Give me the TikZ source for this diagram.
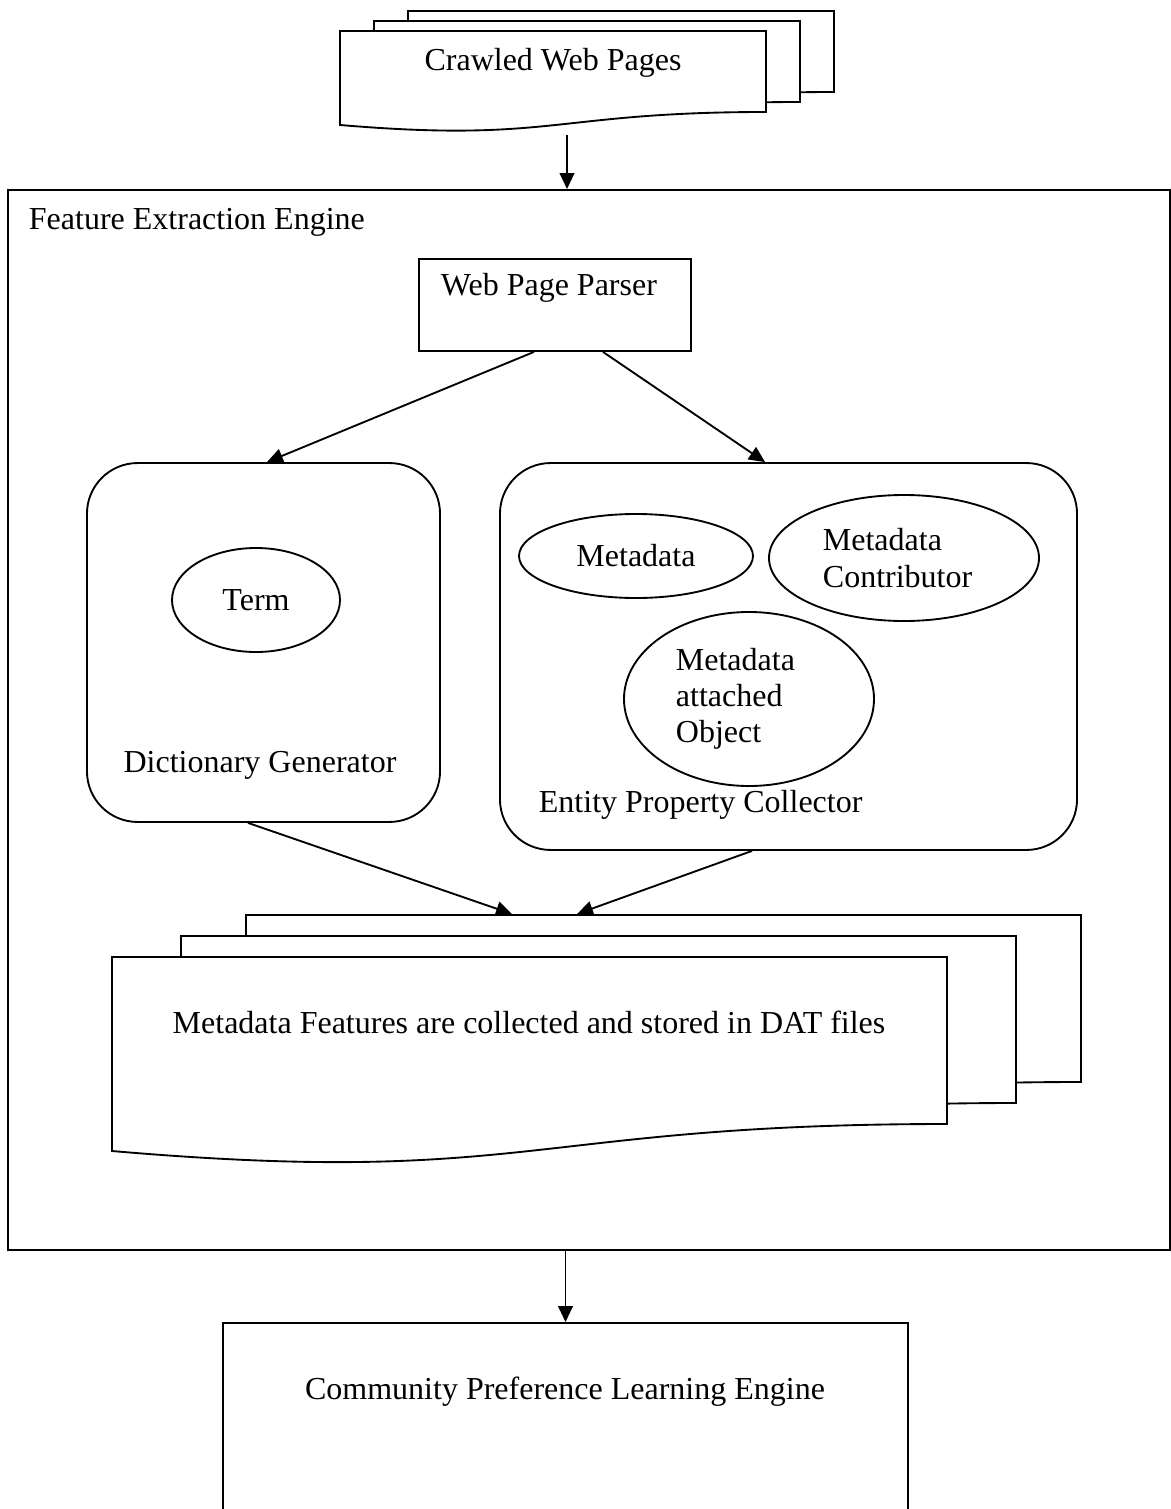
\documentclass[tikz,border=0pt]{standalone}
\usepackage{fontspec}
\setmainfont{Liberation Serif}
\usetikzlibrary{shapes.geometric,arrows.meta}

\begin{document}
\begin{tikzpicture}[x=0.375pt, y=-0.375pt, line width=0.7pt,
    >={Triangle[length=6pt,width=5.5pt]},
    every node/.style={font=\fontsize{12}{13.6}\selectfont},
    page/.style={draw, fill=white},
    box/.style={draw, rectangle, inner sep=0pt},
    rbox/.style={draw, rectangle, rounded corners=19pt, inner sep=0pt},
    oval/.style={draw, ellipse, inner sep=0pt, align=left}]
    \clip (0,0) rectangle (1171,1509);

    % 网页文档
    \foreach \l/\t in {408/11, 374/21, 340/31}
        \draw[page] (\l,\t) -- ({\l+426},\t) -- ({\l+426},{\t+81})
            .. controls ({\l+213},{\t+81}) and ({\l+213},{\t+112}) .. (\l,{\t+94}) -- cycle;
    \node (crawled) at (553,63) {Crawled Web Pages};

    % 特征提取引擎
    \node[box, minimum width=435.75pt, minimum height=397.5pt] (fee) at (589,720) {};
    \node[anchor=west, inner sep=0pt] (feelabel) at (28,222) {Feature Extraction Engine};

    % 解析器
    \node[box, minimum width=102pt, minimum height=34.5pt] (parser) at (555,305) {};
    \node[anchor=west, inner sep=0pt] (parserlabel) at (440,288) {Web Page Parser};

    % 词典生成
    \node[rbox, minimum width=132.4pt, minimum height=134.6pt] (dict) at (263.5,642.5) {};
    \node[oval, minimum width=63pt, minimum height=39pt] (term) at (256,600) {Term};
    \node (dictlabel) at (260,765) {Dictionary Generator};

    % 实体属性收集
    \node[rbox, minimum width=216.4pt, minimum height=145.1pt] (entity) at (788.5,656.5) {};
    \node[oval, minimum width=87.75pt, minimum height=31.5pt] (meta) at (636,556) {Metadata};
    \node[oval, minimum width=101.25pt, minimum height=47.25pt, text width=60.8pt] (contrib) at (904,558) {Metadata\\Contributor};
    \node[oval, minimum width=93.75pt, minimum height=65.25pt, text width=54.8pt] (object) at (749,699) {Metadata\\attached\\Object};
    \node[anchor=west, inner sep=0pt] (entitylabel) at (538,805) {Entity Property Collector};

    % DAT 文件
    \foreach \l/\t in {246/915, 181/936, 112/957}
        \draw[page] (\l,\t) -- ({\l+835},\t) -- ({\l+835},{\t+167})
            .. controls ({\l+417},{\t+167}) and ({\l+417},{\t+230}) .. (\l,{\t+194}) -- cycle;
    \node (dat) at (529,1022) {Metadata Features are collected and stored in DAT files};
    \coordinate (datin1) at (512,914);
    \coordinate (datin2) at (577,914);

    % 学习引擎
    \node[box, minimum width=256.9pt, minimum height=81.4pt] (comm) at (565.5,1431.5) {};
    \node (commlabel) at (565,1392) {Community Preference Learning Engine};

    % 箭头
    \coordinate (crawledout) at (567,135);
    \draw[->] (crawledout) -- (crawledout |- fee.north);
    \draw[->] ([xshift=-7.9pt]parser.south) -- ([xshift=1.3pt]dict.north);
    \draw[->] ([xshift=18pt]parser.south) -- ([xshift=-8.8pt]entity.north);
    \draw[->] ([xshift=-5.8pt]dict.south) -- (datin1);
    \draw[->] ([xshift=-13.7pt]entity.south) -- (datin2);
    \draw[->] (fee.south -| comm.north) -- (comm.north);
\end{tikzpicture}
\end{document}
